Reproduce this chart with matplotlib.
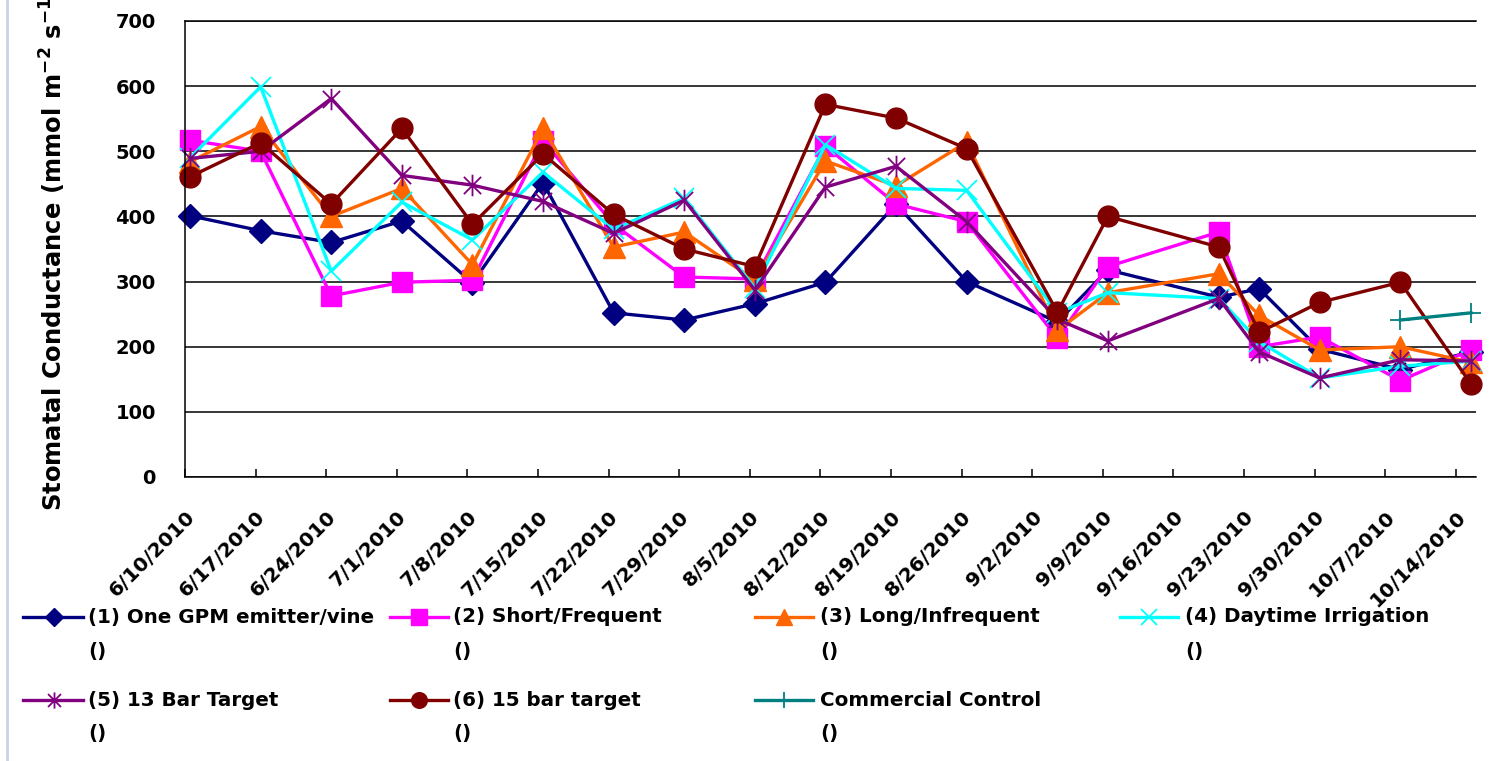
import matplotlib
matplotlib.use("Agg")
import matplotlib.pyplot as plt
from matplotlib.lines import Line2D
from matplotlib.path import Path
from matplotlib.transforms import ScaledTranslation
import numpy as np
import pandas as pd

# ---------------- data ----------------
sample_dates = ['2010-06-10', '2010-06-17', '2010-06-24', '2010-07-01', '2010-07-08',
                '2010-07-15', '2010-07-22', '2010-07-29', '2010-08-05', '2010-08-12',
                '2010-08-19', '2010-08-26', '2010-09-04', '2010-09-09', '2010-09-20',
                '2010-09-24', '2010-09-30', '2010-10-08', '2010-10-15']

one_gpm = [401, 378, 360, 393, 298, 452, 252, 241, 266, 299, 419, 300, 238, 318, 276, 289, 196, 165, 192]
short_frequent = [517, 500, 278, 299, 302, 516, 388, 307, 304, 508, 419, 392, 213, 323, 376, 200, 215, 148, 195]
long_infrequent = [484, 538, 400, 443, 326, 535, 353, 376, 302, 485, 447, 514, 225, 283, 312, 248, 195, 200, 176]
daytime_irrigation = [490, 599, 316, 422, 364, 468, 380, 428, 290, 510, 443, 440, 252, 283, 274, 208, 152, 170, 178]
bar13_target = [489, 500, 581, 463, 448, 423, 374, 425, 287, 445, 477, 392, 242, 209, 274, 192, 152, 180, 178]
bar15_target = [461, 513, 419, 535, 388, 496, 403, 350, 323, 572, 551, 504, 253, 400, 353, 222, 268, 299, 143]
commercial_control = [np.nan] * 17 + [241, 252]

series_names = ['(1) One GPM emitter/vine', '(2) Short/Frequent', '(3) Long/Infrequent',
                '(4) Daytime Irrigation', '(5) 13 Bar Target', '(6) 15 bar target',
                'Commercial Control']

tick_labels = ['6/10/2010', '6/17/2010', '6/24/2010', '7/1/2010', '7/8/2010', '7/15/2010',
               '7/22/2010', '7/29/2010', '8/5/2010', '8/12/2010', '8/19/2010', '8/26/2010',
               '9/2/2010', '9/9/2010', '9/16/2010', '9/23/2010', '9/30/2010', '10/7/2010',
               '10/14/2010']

y_ticks = [0, 100, 200, 300, 400, 500, 600, 700]

# ---------------- style ----------------
plt.rcParams['font.family'] = ['DejaVu Sans']
plt.rcParams['font.weight'] = 'bold'
plt.rcParams['mathtext.default'] = 'bf'

W, H = 1493, 761
fig = plt.figure(figsize=(W / 100, H / 100), dpi=100)
fig.patch.set_facecolor('white')

def fx(px):
    return px / W

def fy(py):
    return 1 - py / H

ax = fig.add_axes([fx(185), fy(477), fx(1476) - fx(185), fy(21) - fy(477)])

star_path = Path([(-1, -1), (1, 1), (-1, 1), (1, -1), (0, -1.25), (0, 1.25)],
                 [Path.MOVETO, Path.LINETO, Path.MOVETO, Path.LINETO, Path.MOVETO, Path.LINETO])

styles = [
    dict(color='#000080', marker='D', ms=12, mec='#000080', mew=1),
    dict(color='#FF00FF', marker='s', ms=14.5, mec='#FF00FF', mew=1),
    dict(color='#FF6600', marker='^', ms=15.5, mec='#FF6600', mew=1),
    dict(color='#00FFFF', marker='x', ms=14.5, mec='#00FFFF', mew=1.3),
    dict(color='#800080', marker=star_path, ms=15.5, mec='#800080', mew=1.3),
    dict(color='#800000', marker='o', ms=15, mec='#800000', mew=1),
    dict(color='#008080', marker='+', ms=15, mec='#008080', mew=1.3),
]

all_series = [one_gpm, short_frequent, long_infrequent, daytime_irrigation,
              bar13_target, bar15_target, commercial_control]

xdates = pd.to_datetime(sample_dates) + pd.Timedelta(hours=12)

for vals, st, name in zip(all_series, styles, series_names):
    ax.plot(xdates, vals, color=st['color'], lw=2.4, marker=st['marker'],
            markersize=st['ms'], markerfacecolor=st['color'], markeredgecolor=st['mec'],
            markeredgewidth=st['mew'], label=name, clip_on=False)

# axes
tick_dates = pd.to_datetime(tick_labels, format='%m/%d/%Y')
ax.set_xlim(pd.Timestamp('2010-06-10'), pd.Timestamp('2010-10-16'))
ax.set_ylim(0, 700)
ax.set_yticks(y_ticks)
ax.set_xticks(tick_dates)
ax.set_xticklabels(tick_labels, rotation=45, ha='right', va='top', rotation_mode='anchor',
                   fontsize=14.5, fontweight='bold')
for lab in ax.get_xticklabels():
    lab.set_transform(lab.get_transform() + ScaledTranslation(-10 / 100, 0, fig.dpi_scale_trans))
ax.tick_params(axis='x', direction='in', length=6, width=1.1, pad=22, colors='black')
ax.tick_params(axis='y', length=0, pad=21, labelsize=14)
for lab in ax.get_yticklabels():
    lab.set_fontweight('bold')

ax.grid(axis='y', color='black', lw=1.1)
ax.set_axisbelow(True)
for side in ['left', 'bottom', 'top']:
    ax.spines[side].set_color('black')
    ax.spines[side].set_linewidth(1.1)
ax.spines['right'].set_visible(False)

# y label (extends past the top edge, as in the reference)
fig.text(fx(53), fy(248), 'Stomatal Conductance (mmol m$^{-2}$ s$^{-1}$)', rotation=90,
         ha='center', va='center', fontsize=17.5, fontweight='bold')

# manual legend
leg_cols = [(23, 83, 54, 88), (390, 448, 419, 453), (755, 813, 784, 820), (1120, 1178, 1149, 1185)]
leg_rows = [617, 700]
positions = [(0, 0), (0, 1), (0, 2), (0, 3), (1, 0), (1, 1), (1, 2)]
for (r, c), st, name in zip(positions, styles, series_names):
    x0, x1, xm, xt = leg_cols[c]
    y = leg_rows[r]
    fig.add_artist(Line2D([fx(x0), fx(x1)], [fy(y), fy(y)], transform=fig.transFigure,
                          color=st['color'], lw=2.4))
    fig.add_artist(Line2D([fx(xm)], [fy(y)], transform=fig.transFigure, color=st['color'],
                          marker=st['marker'], markersize=st['ms'] * 0.75,
                          markerfacecolor=st['color'], markeredgecolor=st['mec'],
                          markeredgewidth=st['mew'], lw=0))
    fig.text(fx(xt), fy(y), name, ha='left', va='center', fontsize=14.3, fontweight='bold')
    fig.text(fx(xt), fy(y + 34), '()', ha='left', va='center', fontsize=14.3, fontweight='bold')

# light frame line at the left
fig.add_artist(Line2D([fx(7), fx(7)], [0, 1], transform=fig.transFigure, color='#c8d3e3', lw=2))

fig.savefig('out.png', dpi=100, facecolor='white')
